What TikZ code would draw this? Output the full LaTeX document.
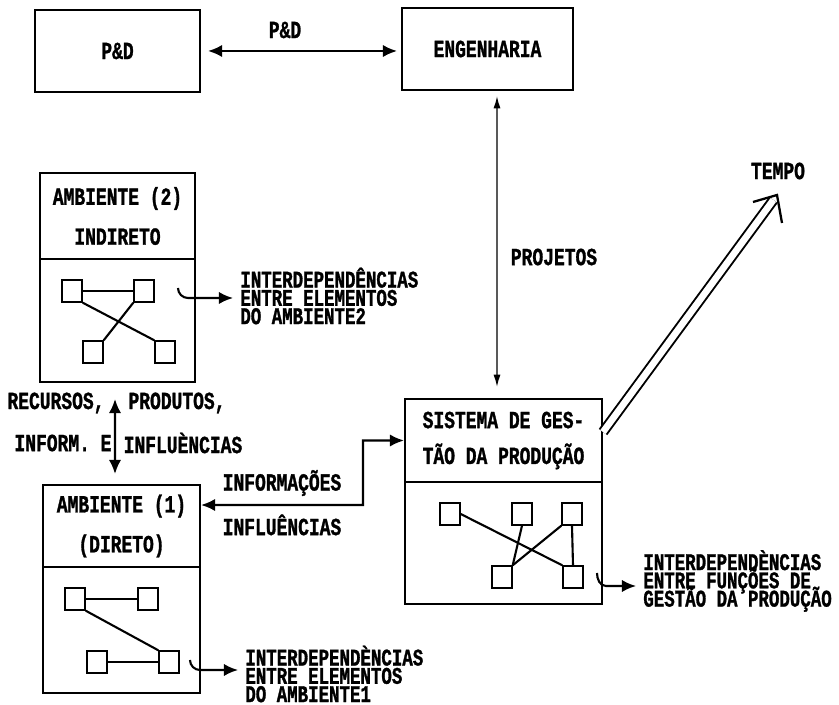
\documentclass[tikz,border=0pt]{standalone}
\usepackage{fontspec}
\setmainfont{Liberation Mono}[FakeStretch=0.73, BoldFeatures={FakeBold=1.2}]
\usetikzlibrary{arrows.meta}
\newcommand\fontenota{\bfseries\fontsize{13.6}{10.4}\selectfont\lineskiplimit=-20pt\relax}

\begin{document}
\begin{tikzpicture}[x=0.02cm, y=-0.02cm,
    font=\bfseries\fontsize{14}{16}\selectfont,
    caixa/.style={rectangle, draw=black, very thick, inner sep=0pt},
    titulo/.style={align=center, font=\bfseries\fontsize{14}{22.7}\selectfont},
    quadrado/.style={rectangle, draw=black, thick, minimum width=0.4cm, minimum height=0.44cm, inner sep=0pt},
    rotulo/.style={inner sep=0pt},
    nota/.style={align=left, inner sep=0pt, font=\fontenota},
    liga/.style={very thick},
    seta/.style={-{Latex[length=8pt,width=7pt]}, very thick},
    setadupla/.style={{Latex[length=8pt,width=7pt]}-{Latex[length=8pt,width=7pt]}, very thick},
    setafina/.style={{Latex[length=7pt,width=4pt]}-{Latex[length=7pt,width=4pt]}, line width=0.8pt},
    tempo/.style={double, line width=1.1pt, double distance=3.8pt, shorten >=3.5pt},
    ponta/.style={line width=1.3pt, line join=miter},
]
\useasboundingbox (0,0) rectangle (839,705);

\node (ped) [caixa, minimum width=3.3cm, minimum height=1.64cm] at (117.5,51) {P\&D};
\node (eng) [caixa, minimum width=3.42cm, minimum height=1.64cm] at (487.5,49) {ENGENHARIA};
\draw [setadupla, shorten <=0.14cm, shorten >=0.08cm] (ped.east) -- (ped.east -| eng.west);
\node (rped) [rotulo] at (285,30) {P\&D};

\node (amb2topo) [caixa, titulo, minimum width=3.1cm, minimum height=1.72cm] at (117.5,216) {AMBIENTE (2)\\INDIRETO};
\node (amb2corpo) [caixa, minimum width=3.1cm, minimum height=2.46cm] at (117.5,320.5) {};
\node (a2q1) [quadrado] at (72,291) {};
\node (a2q2) [quadrado] at (144,291) {};
\node (a2q3) [quadrado] at (93,352) {};
\node (a2q4) [quadrado] at (165,352) {};
\draw [liga] (a2q1.east) -- (a2q2.west);
\draw [liga] (a2q1.south east) -- (a2q4.north west);
\draw [liga] (a2q2.south west) -- (a2q3.north east);
\node (txtamb2) [nota, anchor=west] at (240,296) {INTERDEPENDÊNCIAS\\ENTRE ELEMENTOS\\DO AMBIENTE2};
\coordinate (g2) at (178,288);
\draw [seta] (g2) to[out=-90,in=180] ++(10,10) coordinate (g2b) -- ([xshift=-0.14cm]g2b -| txtamb2.west);

\node (amb1topo) [caixa, titulo, minimum width=3.14cm, minimum height=1.64cm] at (121.5,526) {AMBIENTE (1)\\(DIRETO)};
\node (amb1corpo) [caixa, minimum width=3.14cm, minimum height=2.52cm] at (121.5,630) {};
\node (a1q1) [quadrado] at (75,599) {};
\node (a1q2) [quadrado] at (148,599) {};
\node (a1q3) [quadrado] at (97,662) {};
\node (a1q4) [quadrado] at (169,662) {};
\draw [liga] (a1q1.east) -- (a1q2.west);
\draw [liga] (a1q1.south east) -- (a1q4.north west);
\draw [liga] (a1q3.east) -- (a1q4.west);
\node (txtamb1) [nota, anchor=west] at (245,674) {INTERDEPENDÈNCIAS\\ENTRE ELEMENTOS\\DO AMBIENTE1};
\coordinate (g1) at (190,660);
\draw [seta] (g1) to[out=-90,in=180] ++(10,10) coordinate (g1b) -- ([xshift=-0.14cm]g1b -| txtamb1.west);

\draw [setadupla, shorten <=0.32cm, shorten >=0.2cm] ([xshift=-0.05cm]amb2corpo.south) -- ([xshift=-0.13cm]amb1topo.north);
\node (rrec) [rotulo] at (56,403) {RECURSOS,};
\node (rprod) [rotulo] at (177,403) {PRODUTOS,};
\node (rinf) [rotulo] at (63,443) {INFORM. E};
\node (rinfl) [rotulo] at (183,443) {INFLUÈNCIAS};

\node (sgtopo) [caixa, titulo, font=\bfseries\fontsize{14}{20.4}\selectfont, minimum width=3.94cm, minimum height=1.66cm] at (503.5,440.5) {SISTEMA DE GES-\\TÃO DA PRODUÇÃO};
\node (sgcorpo) [caixa, minimum width=3.94cm, minimum height=2.44cm] at (503.5,543) {};
\node (s1) [quadrado] at (450,514) {};
\node (s2) [quadrado] at (522,514) {};
\node (s3) [quadrado] at (572,514) {};
\node (s4) [quadrado] at (502,577) {};
\node (s5) [quadrado] at (573,577) {};
\draw [liga] (s1.east) -- (s5.north west);
\draw [liga] (s2.south) -- (s4.north east);
\draw [liga] (s3.south west) -- (s4.north east);
\draw [liga] (s3.south) -- (s5.north);
\node (txtsg) [nota, anchor=west] at (643,581) {INTERDEPENDÈNCIAS\\ENTRE FUNÇÕES DE\\GESTÃO DA PRODUÇÃO};
\coordinate (g3) at (597,573);
\draw [seta] (g3) to[out=-90,in=180] ++(9,13) coordinate (g3b) -- ([xshift=-0.14cm]g3b -| txtsg.west);

\draw [setafina, shorten <=0.1cm, shorten >=0.22cm] ([xshift=0.19cm]eng.south) -- ([xshift=-0.13cm]sgtopo.north);
\node (rproj) [rotulo] at (554,257) {PROJETOS};

\coordinate (dobra) at (363,505);
\draw [setadupla] ([yshift=0.42cm]amb1topo.east) -- (dobra) |- (sgtopo.west);
\node (rinfo) [rotulo] at (282,483) {INFORMAÇÕES};
\node (rinflu) [rotulo] at (282,525) {INFLUÊNCIAS};

\coordinate (ptempo) at (777,195);
\draw [tempo] ([yshift=0.17cm]sgtopo.east) -- (ptempo);
\draw [ponta] ([shift={(-24,7)}]ptempo) -- (ptempo) -- ([shift={(5,28)}]ptempo);
\node (rtempo) [rotulo] at (778,171) {TEMPO};

\end{tikzpicture}
\end{document}
